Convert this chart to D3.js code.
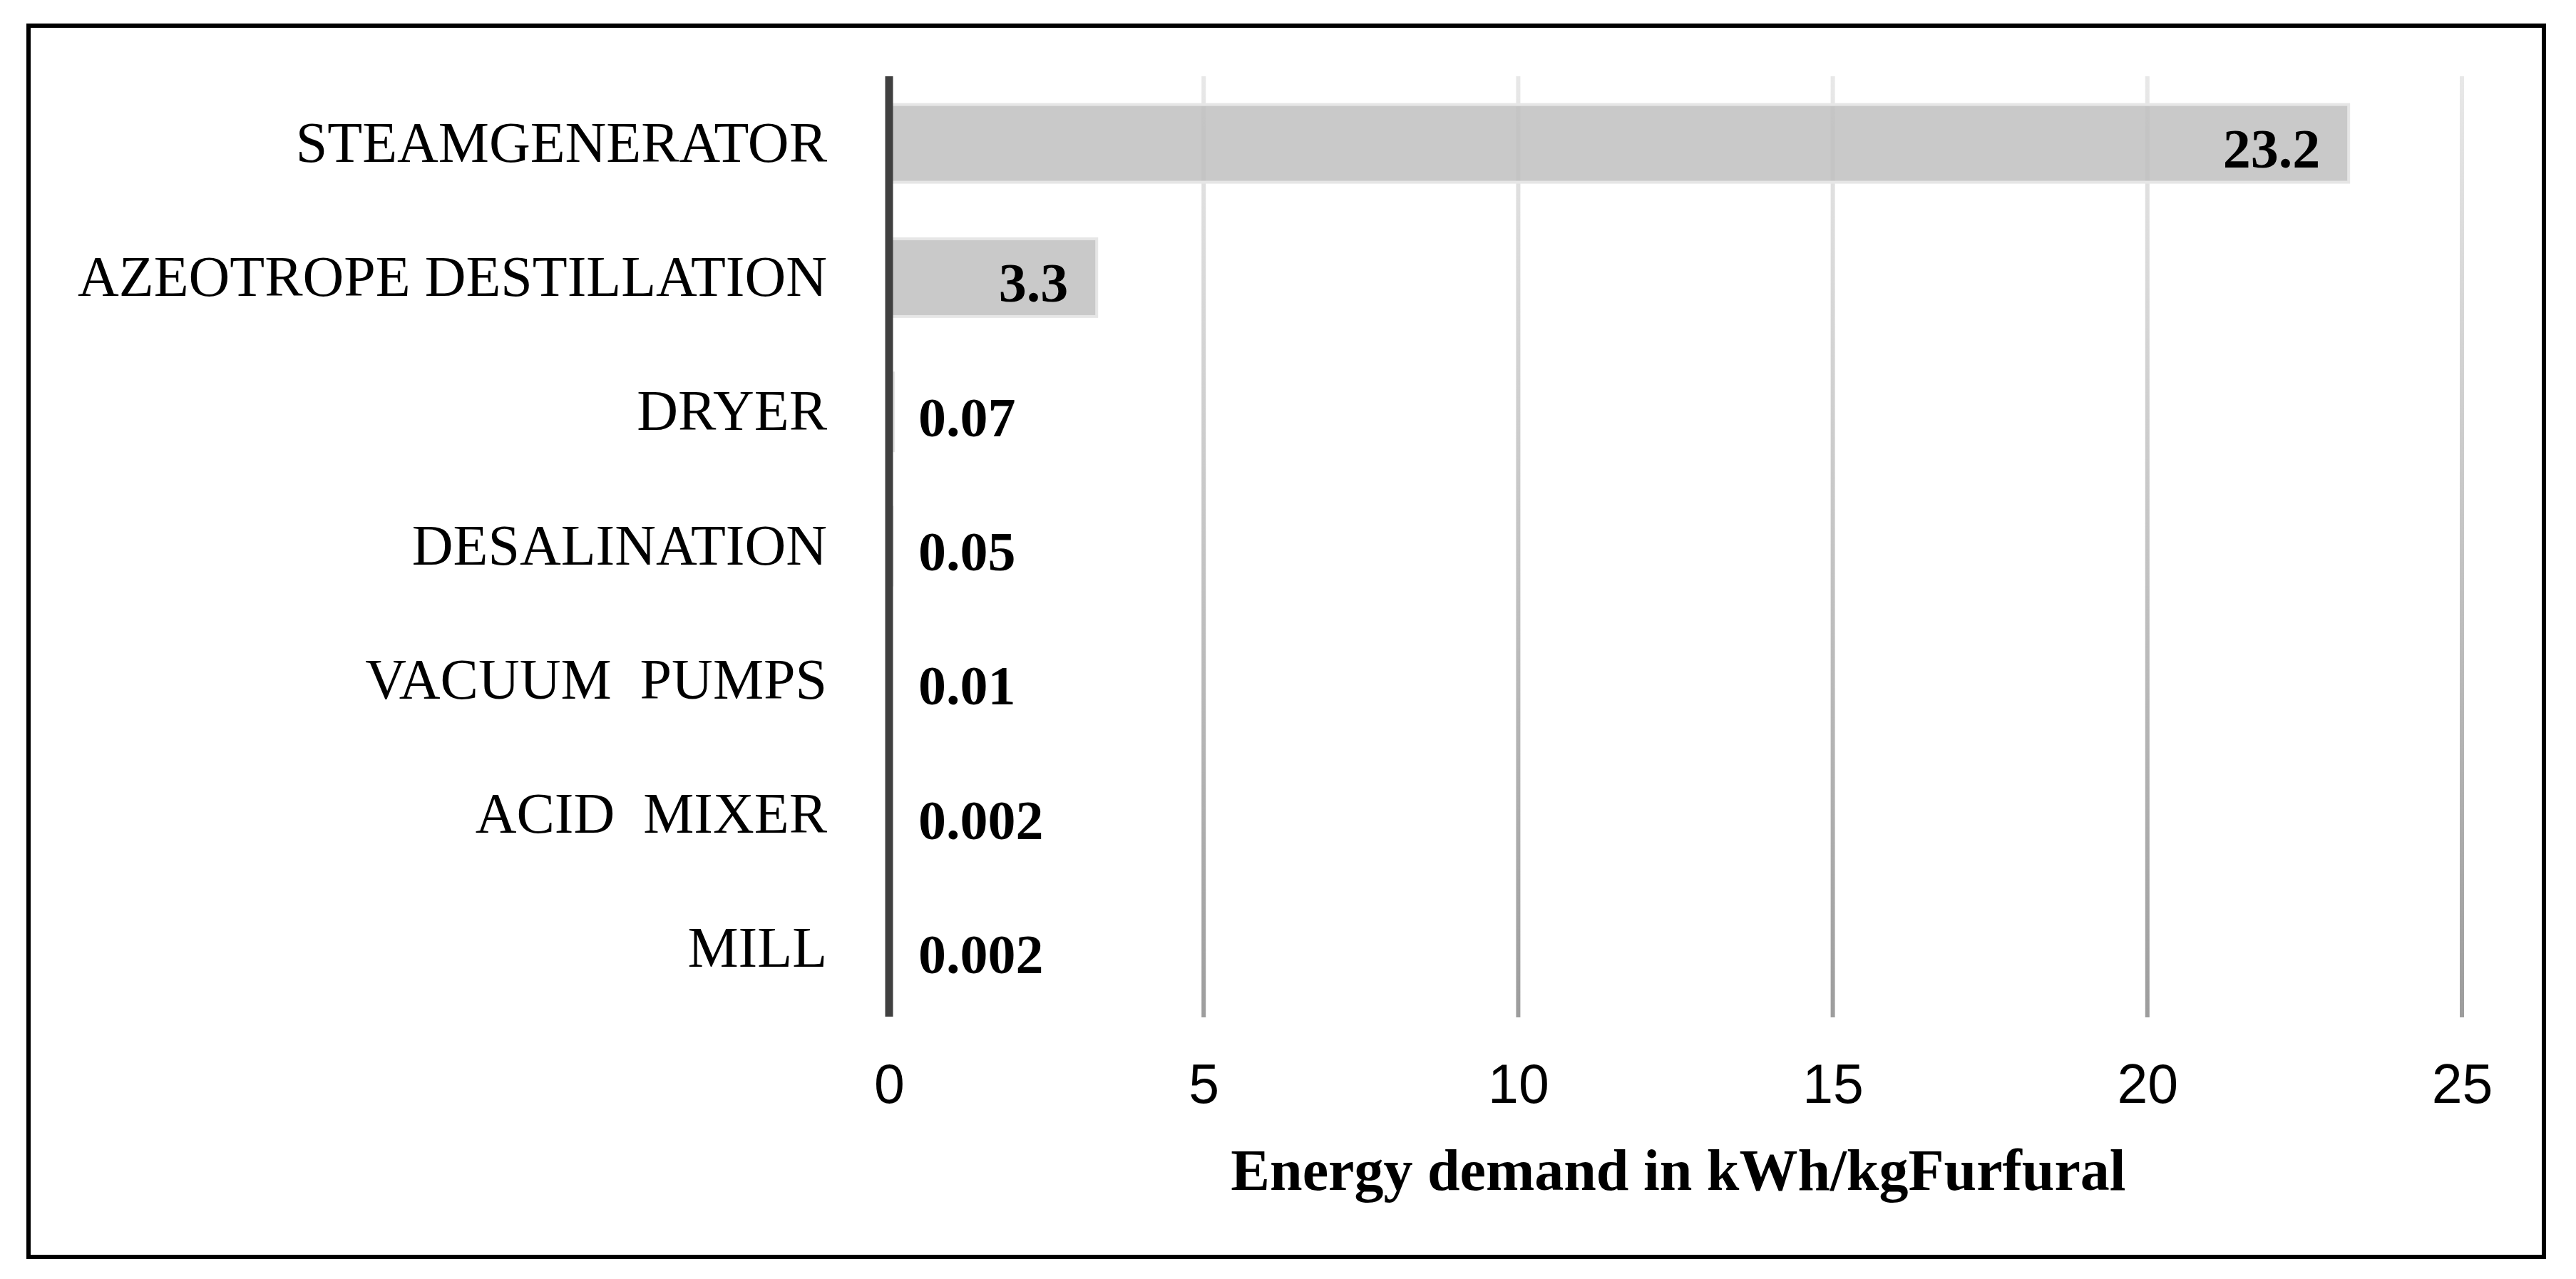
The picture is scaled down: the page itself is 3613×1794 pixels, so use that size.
<!DOCTYPE html>
<html>
<head>
<meta charset="utf-8">
<script src="https://cdn.jsdelivr.net/npm/d3@7"></script>
<style>
  html, body { margin: 0; padding: 0; background: #ffffff; }
  svg { display: block; }
</style>
</head>
<body>
<svg id="chart" width="3613" height="1794"></svg>
<script>
// ---- data ----
const categories = ["STEAMGENERATOR", "AZEOTROPE DESTILLATION", "DRYER", "DESALINATION", "VACUUM  PUMPS", "ACID  MIXER", "MILL"];
const values = [23.2, 3.3, 0.07, 0.05, 0.01, 0.002, 0.002];
const valueLabels = ["23.2", "3.3", "0.07", "0.05", "0.01", "0.002", "0.002"];
const xTicks = [0, 5, 10, 15, 20, 25];
const xTitle = "Energy demand in kWh/kgFurfural";

// ---- layout ----
const W = 3613, H = 1794;
const plot = { left: 1247, right: 3453, top: 107, bottom: 1425 };

const svg = d3.select("#chart");
svg.append("rect").attr("x", 0).attr("y", 0).attr("width", W).attr("height", H).attr("fill", "#ffffff");

const x = d3.scaleLinear().domain([0, 25]).range([plot.left, plot.right]);
const y = d3.scaleBand().domain(categories).range([plot.top, plot.bottom]).paddingInner(0.4).paddingOuter(0.2);

// gradient for gridlines (light at top, darker at bottom)
const defs = svg.append("defs");
const grad = defs.append("linearGradient").attr("id", "gridGrad")
  .attr("gradientUnits", "userSpaceOnUse")
  .attr("x1", 0).attr("y1", plot.top).attr("x2", 0).attr("y2", plot.bottom);
grad.append("stop").attr("offset", "0%").attr("stop-color", "#e8e8e8");
grad.append("stop").attr("offset", "50%").attr("stop-color", "#c4c4c4");
grad.append("stop").attr("offset", "100%").attr("stop-color", "#9d9d9d");

// gridlines
svg.append("g").selectAll("rect.grid")
  .data(xTicks.filter(t => t > 0))
  .join("rect")
  .attr("class", "grid")
  .attr("x", d => x(d) - 3)
  .attr("y", plot.top)
  .attr("width", 6)
  .attr("height", plot.bottom + 2 - plot.top)
  .attr("fill", "url(#gridGrad)");

// bars
const data = categories.map((c, i) => ({ cat: c, v: values[i], label: valueLabels[i] }));
svg.append("g").selectAll("rect.bar")
  .data(data)
  .join("rect")
  .attr("class", "bar")
  .attr("x", x(0))
  .attr("y", d => y(d.cat) + 2)
  .attr("width", d => x(d.v) - x(0))
  .attr("height", y.bandwidth() - 4)
  .attr("fill", "#bdbdbd")
  .attr("fill-opacity", 0.82)
  .attr("stroke", "#e6e6e6")
  .attr("stroke-width", 4);

// vertical category axis line
svg.append("line")
  .attr("x1", x(0)).attr("x2", x(0))
  .attr("y1", plot.top).attr("y2", plot.bottom + 1)
  .attr("stroke", "#404040").attr("stroke-width", 11);

// category labels (left axis)
const yAxis = d3.axisLeft(y).tickSize(0).tickPadding(87);
const gy = svg.append("g").attr("transform", `translate(${x(0)},0)`).call(yAxis);
gy.select(".domain").remove();
gy.selectAll("text")
  .attr("font-family", "'Liberation Serif', 'Times New Roman', serif")
  .attr("font-size", 80)
  .attr("fill", "#000000")
  .style("white-space", "pre");

// x axis tick labels
const xAxis = d3.axisBottom(x).tickValues(xTicks).tickSize(0).tickFormat(d3.format("d"));
const gx = svg.append("g").attr("transform", `translate(0,${plot.bottom})`).call(xAxis);
gx.select(".domain").remove();
gx.selectAll("text")
  .attr("y", 122)
  .attr("dy", 0)
  .attr("font-family", "'Liberation Sans', Arial, sans-serif")
  .attr("font-size", 77)
  .attr("fill", "#000000");

// value labels
const vl = svg.append("g").selectAll("text.val")
  .data(data)
  .join("text")
  .attr("class", "val")
  .attr("font-family", "'Liberation Serif', 'Times New Roman', serif")
  .attr("font-weight", "bold")
  .attr("font-size", 78)
  .attr("fill", "#000000")
  .attr("y", d => y(d.cat) + y.bandwidth() / 2 + 34)
  .text(d => d.label);
vl.each(function(d) {
  const w = this.getComputedTextLength();
  const endX = x(d.v) - 40;
  const startX = Math.max(endX - w, x(0) + 41);
  d3.select(this).attr("x", startX);
});

// x axis title
svg.append("text")
  .attr("x", (plot.left + plot.right) / 2 + 4)
  .attr("y", 1669)
  .attr("text-anchor", "middle")
  .attr("font-family", "'Liberation Serif', 'Times New Roman', serif")
  .attr("font-weight", "bold")
  .attr("font-size", 82)
  .attr("fill", "#000000")
  .text(xTitle);

// outer frame
svg.append("rect")
  .attr("x", 40).attr("y", 36)
  .attr("width", 3528).attr("height", 1727)
  .attr("fill", "none")
  .attr("stroke", "#000000")
  .attr("stroke-width", 6);
</script>
</body>
</html>
